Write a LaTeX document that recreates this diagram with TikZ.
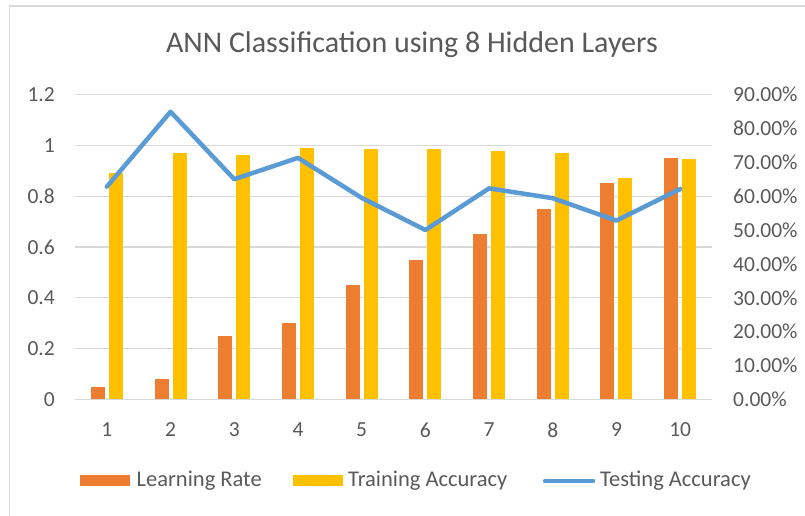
\documentclass[tikz,border=0pt]{standalone}
\usepackage{fontspec}
\setmainfont{Carlito}
\definecolor{txtgray}{HTML}{595959}
\definecolor{gridgray}{HTML}{D9D9D9}
\definecolor{lrorange}{HTML}{ED7D31}
\definecolor{tryellow}{HTML}{FFC000}
\definecolor{teblue}{HTML}{5B9BD5}
\begin{document}
\begin{tikzpicture}[x=1pt,y=1pt,
  gridline/.style={draw=gridgray,line width=1.2pt},
  axislabel/.style={text=txtgray,font=\fontsize{21.5}{23}\selectfont,inner sep=0pt},
  legendlabel/.style={text=txtgray,font=\fontsize{22.5}{24}\selectfont,inner sep=0pt,anchor=west},
  lrbar/.style={fill=lrorange,draw=none},
  trbar/.style={fill=tryellow,draw=none},
  testline/.style={draw=teblue,line width=4.5pt,line join=round,line cap=round}]
\useasboundingbox (0,0) rectangle (805,516);
% chart frame
\draw[draw=gridgray,line width=1.5pt] (9.5,0) -- (9.5,510) -- (805,510);
% title
\node[text=txtgray,font=\fontsize{30}{34}\selectfont,inner sep=0pt] (title) at (412,471) {ANN Classification using 8 Hidden Layers};
% horizontal gridlines and left axis labels (0 .. 1.2)
\foreach \v/\lab [count=\k] in {0/0,0.2/0.2,0.4/0.4,0.6/0.6,0.8/0.8,1/1,1.2/1.2} {
  \pgfmathsetmacro{\yy}{116.5+\v*254.17}
  \draw[gridline] (75,\yy) -- (712,\yy);
  \node[axislabel,anchor=east] (ly\k) at (55,\yy) {\lab};
}
% right axis labels (0% .. 90%)
\foreach \p [count=\k] in {0,10,...,90} {
  \pgfmathsetmacro{\yy}{116.5+\p*3.3889}
  \node[axislabel,anchor=west] (ry\k) at (733,\yy) {\p.00\%};
}
% bars and category labels
\foreach \lr/\tr [count=\i] in {0.05/0.89,0.08/0.97,0.25/0.96,0.30/0.99,0.45/0.985,0.55/0.985,0.65/0.977,0.75/0.969,0.85/0.871,0.95/0.946} {
  \pgfmathsetmacro{\cx}{75+(\i-0.5)*63.7}
  \pgfmathsetmacro{\ylr}{116.5+\lr*254.17}
  \pgfmathsetmacro{\ytr}{116.5+\tr*254.17}
  \fill[lrbar] (\cx-16,116.5) rectangle (\cx-2,\ylr);
  \fill[trbar] (\cx+2,116.5) rectangle (\cx+16,\ytr);
  \node[axislabel] (cat\i) at (\cx,86) {\i};
}
% testing accuracy line (right axis)
\draw[testline]
  (75+0.5*63.7,116.5+62.8*3.3889)
  -- (75+1.5*63.7,116.5+84.9*3.3889)
  -- (75+2.5*63.7,116.5+65.0*3.3889)
  -- (75+3.5*63.7,116.5+71.3*3.3889)
  -- (75+4.5*63.7,116.5+59.5*3.3889)
  -- (75+5.5*63.7,116.5+50.0*3.3889)
  -- (75+6.5*63.7,116.5+62.3*3.3889)
  -- (75+7.5*63.7,116.5+59.4*3.3889)
  -- (75+8.5*63.7,116.5+52.8*3.3889)
  -- (75+9.5*63.7,116.5+62.1*3.3889);
% legend
\fill[lrbar] (80,29.5) rectangle (130,40.5);
\node[legendlabel] (leglr) at (136.5,35) {Learning Rate};
\fill[trbar] (293,29.5) rectangle (343,40.5);
\node[legendlabel] (legtr) at (348,35) {Training Accuracy};
\coordinate (legteA) at (545,35);
\coordinate (legteB) at (593,35);
\draw[testline,line cap=round] (legteA) -- (legteB);
\node[legendlabel] (legte) at (600,35) {Testing Accuracy};
\end{tikzpicture}
\end{document}
